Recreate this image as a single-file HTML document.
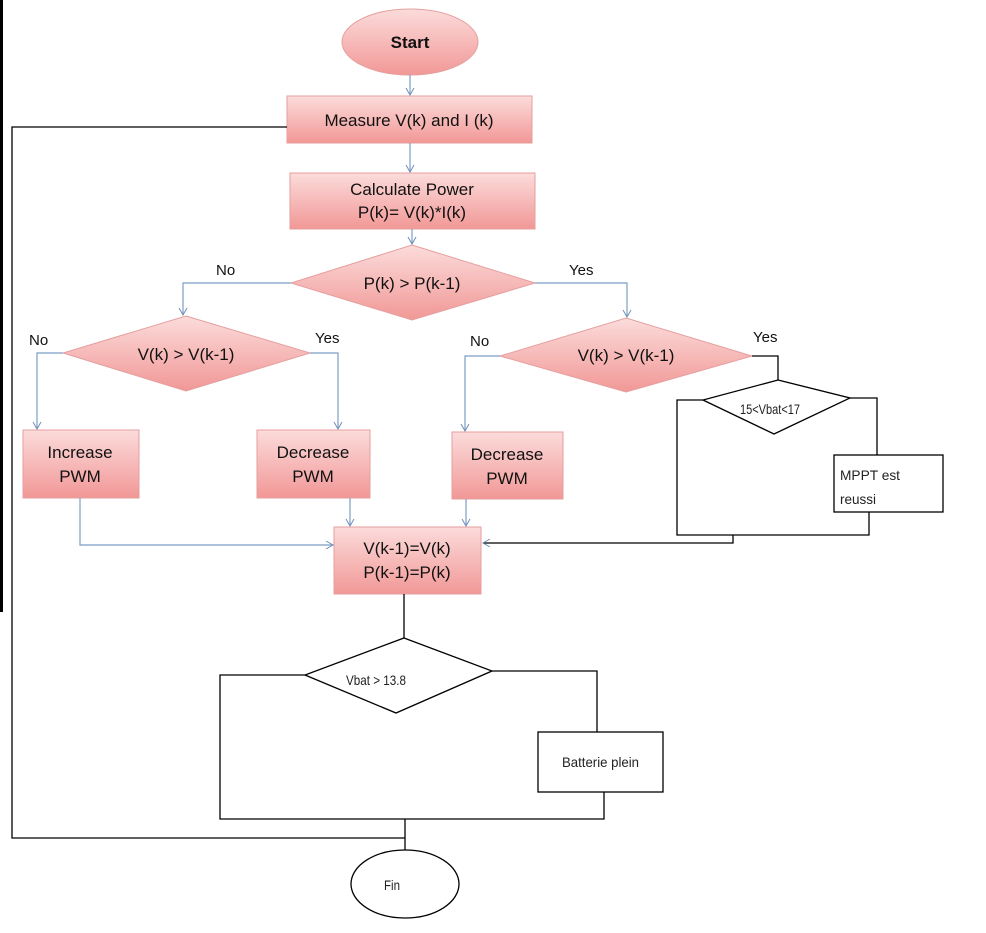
<!DOCTYPE html>
<html><head><meta charset="utf-8"><style>
html,body{margin:0;padding:0;background:#fff}
svg{display:block}
.t{font-family:"Liberation Sans",sans-serif;font-size:17px;fill:#111;text-anchor:middle}
.n{font-family:"Liberation Sans",sans-serif;font-size:15px;fill:#111}
.h{font-family:"Liberation Sans",sans-serif;font-size:14px;fill:#222}
</style></head><body>
<svg width="986" height="933" viewBox="0 0 986 933" xmlns="http://www.w3.org/2000/svg">
<defs>
<linearGradient id="g" x1="0" y1="0" x2="0" y2="1">
<stop offset="0" stop-color="#fbdcdb"/><stop offset="1" stop-color="#f19896"/></linearGradient>
<marker id="a" markerWidth="10" markerHeight="10" refX="8" refY="5" orient="auto" markerUnits="userSpaceOnUse">
<path d="M1,1 L8,5 L1,9" fill="none" stroke="#6f8fb8" stroke-width="1"/></marker>
</defs>
<rect x="0" y="0" width="3" height="612" fill="#000"/>
<g fill="url(#g)" stroke="#e59f9e" stroke-width="1">
<ellipse cx="410" cy="42" rx="68" ry="33"/>
<rect x="287" y="96" width="245" height="47"/>
<rect x="290" y="173" width="245" height="56"/>
<polygon points="412,245 535,283 412,320 291,283"/>
<polygon points="186,316 310,353 186,391 63,353"/>
<rect x="23" y="430" width="116" height="68"/>
<rect x="257" y="430" width="113" height="68"/>
<polygon points="626,318 752,356 626,392 500,356"/>
<rect x="452" y="432" width="111" height="67"/>
<rect x="334" y="527" width="147" height="67"/>
</g>
<g fill="none" stroke="#7b9cc4" stroke-width="1.2">
<path d="M410,75 V95" marker-end="url(#a)"/>
<path d="M410,143 V172" marker-end="url(#a)"/>
<path d="M412,229 V244" marker-end="url(#a)"/>
<path d="M291,283 H183 V315" marker-end="url(#a)"/>
<path d="M535,283 H627 V317" marker-end="url(#a)"/>
<path d="M63,353 H37 V429" marker-end="url(#a)"/>
<path d="M310,353 H338 V429" marker-end="url(#a)"/>
<path d="M500,356 H465 V431" marker-end="url(#a)"/>
<path d="M80,498 V545 H333" marker-end="url(#a)"/>
<path d="M350,498 V526" marker-end="url(#a)"/>
<path d="M466,499 V526" marker-end="url(#a)"/>
</g>
<g fill="none" stroke="#000" stroke-width="1.3">
<path d="M752,356 H778 V380"/>
<polygon points="778,380 850,398 774,434 703,400"/>
<path d="M703,400 H677 V535 H869 V512"/>
<path d="M850,398 H877 V455"/>
<rect x="834" y="455" width="109" height="57"/>
<path d="M733,535 V543 H483" marker-end="url(#a)"/>
<path d="M404,594 V638"/>
<polygon points="404,638 492,671 396,713 305,675"/>
<path d="M305,675 H220 V819 H604 V792"/>
<path d="M492,671 H597 V732"/>
<rect x="538" y="732" width="125" height="60"/>
<path d="M405,819 V852"/>
<path d="M405,838 H12 V127 H287"/>
<ellipse cx="405" cy="884" rx="54" ry="34" fill="#fff"/>
</g>
<text class="t" x="410" y="48" font-weight="bold">Start</text>
<text class="t" x="409" y="126">Measure V(k) and I (k)</text>
<text class="t" x="412" y="195">Calculate Power</text>
<text class="t" x="412" y="218">P(k)= V(k)*I(k)</text>
<text class="t" x="412" y="289">P(k) &gt; P(k-1)</text>
<text class="n" x="216" y="275">No</text>
<text class="n" x="569" y="275">Yes</text>
<text class="t" x="186" y="360">V(k) &gt; V(k-1)</text>
<text class="n" x="29" y="345">No</text>
<text class="n" x="315" y="343">Yes</text>
<text class="t" x="80" y="458">Increase</text>
<text class="t" x="80" y="482">PWM</text>
<text class="t" x="313" y="458">Decrease</text>
<text class="t" x="313" y="482">PWM</text>
<text class="t" x="626" y="361">V(k) &gt; V(k-1)</text>
<text class="n" x="470" y="346">No</text>
<text class="n" x="753" y="342">Yes</text>
<text class="t" x="507" y="460">Decrease</text>
<text class="t" x="507" y="484">PWM</text>
<text class="t" x="407" y="554">V(k-1)=V(k)</text>
<text class="t" x="407" y="578">P(k-1)=P(k)</text>
<text class="h" x="740" y="414" textLength="60" lengthAdjust="spacingAndGlyphs">15&lt;Vbat&lt;17</text>
<text class="h" x="840" y="480" textLength="60" lengthAdjust="spacingAndGlyphs">MPPT  est</text>
<text class="h" x="840" y="504" textLength="36" lengthAdjust="spacingAndGlyphs">reussi</text>
<text class="h" x="346" y="685" textLength="60" lengthAdjust="spacingAndGlyphs">Vbat &gt; 13.8</text>
<text class="h" x="562" y="767" textLength="77" lengthAdjust="spacingAndGlyphs">Batterie plein</text>
<text class="h" x="384" y="890" textLength="16" lengthAdjust="spacingAndGlyphs">Fin</text>
</svg>
</body></html>
